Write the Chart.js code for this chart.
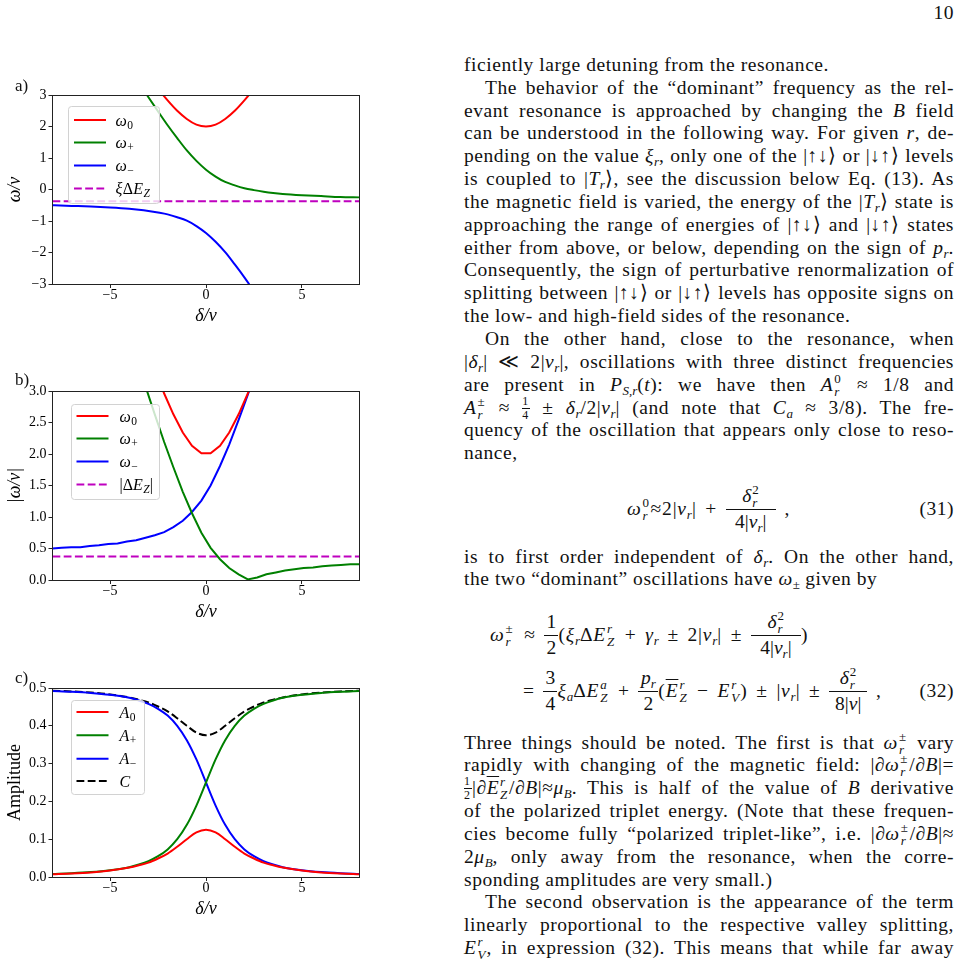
<!DOCTYPE html>
<html>
<head>
<meta charset="utf-8">
<script src="https://cdn.jsdelivr.net/npm/chart.js@4.4.1/dist/chart.umd.min.js"></script>
<style>
  body { margin: 0; width: 961px; height: 965px; position: relative; overflow: hidden; background: #fff;
         font-family: 'Liberation Serif', 'Times New Roman', serif; color: #111; }
  canvas { position: absolute; left: 0; width: 370px; height: 252px; }
  .lbl { position: absolute; font-size: 17px; line-height: 17px; }
  .col { position: absolute; left: 464px; width: 490px; font-size: 19.5px; letter-spacing: 0.55px; }
  .ln { height: 22.85px; line-height: 22.85px; text-align: justify; text-align-last: justify; }
  .ln.last { text-align-last: left; }
  .ind { text-indent: 21px; }
  sub { font-size: 13px; vertical-align: -4px; line-height: 0; font-style: italic; letter-spacing: 0; }
  sup { font-size: 13px; vertical-align: 8px; line-height: 0; }
  .u { font-style: normal; }
  .box { display: inline-block; position: relative; height: 0; vertical-align: baseline; letter-spacing: 0; word-spacing: 0; }
  .box > span { position: absolute; left: 0; right: 0; text-align: center; white-space: nowrap; line-height: 19px; }
  .box > .sp { top: -19px; font-size: 13px; line-height: 13px; text-align: left; left: 1px; }
  .box > .sb { top: -6px; font-size: 13px; line-height: 13px; text-align: left; left: 1px; font-style: italic; }
  .box > .num { top: -29px; }
  .box > .den { top: -3px; }
  .box > .bar { top: -6px; height: 0; border-top: 1px solid #111; }
  .box > .n2 { top: -19px; font-size: 12px; line-height: 12px; }
  .box > .d2 { top: -5px; font-size: 12px; line-height: 12px; }
  .box > .b2 { top: -6px; height: 0; border-top: 1px solid #111; }
  .eq { position: absolute; font-size: 19.5px; line-height: 19px; white-space: nowrap; letter-spacing: 0.8px; word-spacing: 3px; }
  .eqn { position: absolute; left: 880px; width: 74px; text-align: right; font-size: 19.5px; line-height: 19px; letter-spacing: 0.5px; }
</style>
</head>
<body>

<canvas id="chartA" width="370" height="252" style="top:75px"></canvas>
<canvas id="chartB" width="370" height="252" style="top:371px"></canvas>
<canvas id="chartC" width="370" height="252" style="top:668px"></canvas>
<div class="lbl" style="left:15px;top:77px">a)</div>
<div class="lbl" style="left:15px;top:371px">b)</div>
<div class="lbl" style="left:15px;top:669px">c)</div>

<div class="col" style="top:2px;text-align:right;line-height:22.85px">10</div>

<div class="col" style="top:53.9px">
  <div class="ln last">ficiently large detuning from the resonance.</div>
  <div class="ln ind">The behavior of the “dominant” frequency as the rel-</div>
  <div class="ln">evant resonance is approached by changing the <i>B</i> field</div>
  <div class="ln">can be understood in the following way. For given <i>r</i>, de-</div>
  <div class="ln">pending on the value <i>ξ</i><sub>r</sub>, only one of the |↑↓⟩ or |↓↑⟩ levels</div>
  <div class="ln">is coupled to |<i>T</i><sub>r</sub>⟩, see the discussion below Eq. (13). As</div>
  <div class="ln">the magnetic field is varied, the energy of the |<i>T</i><sub>r</sub>⟩ state is</div>
  <div class="ln">approaching the range of energies of |↑↓⟩ and |↓↑⟩ states</div>
  <div class="ln">either from above, or below, depending on the sign of <i>p</i><sub>r</sub>.</div>
  <div class="ln">Consequently, the sign of perturbative renormalization of</div>
  <div class="ln">splitting between |↑↓⟩ or |↓↑⟩ levels has opposite signs on</div>
  <div class="ln last">the low- and high-field sides of the resonance.</div>
  <div class="ln ind">On the other hand, close to the resonance, when</div>
  <div class="ln">|<i>δ</i><sub>r</sub>| ≪ 2|<i>v</i><sub>r</sub>|, oscillations with three distinct frequencies</div>
  <div class="ln">are present in <i>P</i><sub>S,r</sub>(<i>t</i>): we have then <i>A</i><span class="box" style="width:9px"><span class="sp">0</span><span class="sb">r</span></span> ≈ 1/8 and</div>
  <div class="ln"><i>A</i><span class="box" style="width:10px"><span class="sp">±</span><span class="sb">r</span></span> ≈ <span class="box" style="width:8px"><span class="n2">1</span><span class="b2"></span><span class="d2">4</span></span> ± <i>δ</i><sub>r</sub>/2|<i>v</i><sub>r</sub>| (and note that <i>C</i><sub>a</sub> ≈ 3/8). The fre-</div>
  <div class="ln">quency of the oscillation that appears only close to reso-</div>
  <div class="ln last">nance,</div>
</div>

<div class="eq" style="left:627px;top:499px"><i>ω</i><span class="box" style="width:9px"><span class="sp">0</span><span class="sb">r</span></span>≈2|<i>v</i><sub>r</sub>| + <span class="box" style="width:50px"><span class="num"><i>δ</i><span class="box" style="width:8px"><span class="sp">2</span><span class="sb">r</span></span></span><span class="bar"></span><span class="den">4|<i>v</i><sub>r</sub>|</span></span> ,</div>
<div class="eqn" style="top:499px">(31)</div>

<div class="col" style="top:545.5px">
  <div class="ln">is to first order independent of <i>δ</i><sub>r</sub>. On the other hand,</div>
  <div class="ln last">the two “dominant” oscillations have <i>ω</i><sub class="u">±</sub> given by</div>
</div>

<div class="eq" style="left:490px;top:625px"><i>ω</i><span class="box" style="width:11px"><span class="sp">±</span><span class="sb">r</span></span> ≈ <span class="box" style="width:14px"><span class="num">1</span><span class="bar"></span><span class="den">2</span></span>(<i>ξ</i><sub>r</sub>Δ<i>E</i><span class="box" style="width:10px"><span class="sp"><i>r</i></span><span class="sb">Z</span></span> + <i>γ</i><sub>r</sub> ± 2|<i>v</i><sub>r</sub>| ± <span class="box" style="width:50px"><span class="num"><i>δ</i><span class="box" style="width:8px"><span class="sp">2</span><span class="sb">r</span></span></span><span class="bar"></span><span class="den">4|<i>v</i><sub>r</sub>|</span></span>)</div>

<div class="eq" style="left:523px;top:681px">= <span class="box" style="width:14px"><span class="num">3</span><span class="bar"></span><span class="den">4</span></span><i>ξ</i><sub>a</sub>Δ<i>E</i><span class="box" style="width:10px"><span class="sp"><i>a</i></span><span class="sb">Z</span></span> + <span class="box" style="width:20px"><span class="num"><i>p</i><sub>r</sub></span><span class="bar"></span><span class="den">2</span></span>(<i style="text-decoration:overline">E</i><span class="box" style="width:10px"><span class="sp"><i>r</i></span><span class="sb">Z</span></span> − <i>E</i><span class="box" style="width:10px"><span class="sp"><i>r</i></span><span class="sb">V</span></span>) ± |<i>v</i><sub>r</sub>| ± <span class="box" style="width:38px"><span class="num"><i>δ</i><span class="box" style="width:8px"><span class="sp">2</span><span class="sb">r</span></span></span><span class="bar"></span><span class="den">8|<i>v</i>|</span></span> ,</div>
<div class="eqn" style="top:681px">(32)</div>

<div class="col" style="top:731.5px">
  <div class="ln">Three things should be noted. The first is that <i>ω</i><span class="box" style="width:10px"><span class="sp">±</span><span class="sb">r</span></span> vary</div>
  <div class="ln">rapidly with changing of the magnetic field: |∂<i>ω</i><span class="box" style="width:10px"><span class="sp">±</span><span class="sb">r</span></span>/∂<i>B</i>|=</div>
  <div class="ln"><span class="box" style="width:8px"><span class="n2">1</span><span class="b2"></span><span class="d2">2</span></span>|∂<i style="text-decoration:overline">E</i><span class="box" style="width:10px"><span class="sp"><i>r</i></span><span class="sb">Z</span></span>/∂<i>B</i>|≈<i>μ</i><sub>B</sub>. This is half of the value of <i>B</i> derivative</div>
  <div class="ln">of the polarized triplet energy. (Note that these frequen-</div>
  <div class="ln">cies become fully “polarized triplet-like”, i.e. |∂<i>ω</i><span class="box" style="width:10px"><span class="sp">±</span><span class="sb">r</span></span>/∂<i>B</i>|≈</div>
  <div class="ln">2<i>μ</i><sub>B</sub>, only away from the resonance, when the corre-</div>
  <div class="ln last">sponding amplitudes are very small.)</div>
  <div class="ln ind">The second observation is the appearance of the term</div>
  <div class="ln">linearly proportional to the respective valley splitting,</div>
  <div class="ln"><i>E</i><span class="box" style="width:10px"><span class="sp"><i>r</i></span><span class="sb">V</span></span>, in expression (32). This means that while far away</div>
</div>

<script>
// ---- panel a: omega / v ----
const omega0A_x = [-3, -2.5, -2, -1.5, -1, -0.5, 0, 0.5, 1, 1.5, 2, 2.5, 3];
const omega0A   = [3.61, 3.20, 2.83, 2.50, 2.24, 2.06, 2.00, 2.06, 2.24, 2.50, 2.83, 3.20, 3.61];
const omegaPA_x = [-3.5, -3, -2.5, -2, -1.5, -1, -0.5, 0, 0.5, 1, 1.5, 2, 2.5, 3, 3.5, 4, 5, 6, 7, 8];
const omegaPA   = [3.39, 2.93, 2.48, 2.04, 1.63, 1.24, 0.91, 0.63, 0.41, 0.24, 0.13, 0.04, -0.02, -0.07, -0.11, -0.14, -0.18, -0.21, -0.24, -0.25];
const omegaMA_x = [-8, -7, -6, -5, -4, -3.5, -3, -2.5, -2, -1.5, -1, -0.5, 0, 0.5, 1, 1.5, 2, 2.5, 3];
const omegaMA   = [-0.50, -0.52, -0.54, -0.57, -0.61, -0.64, -0.68, -0.73, -0.79, -0.88, -0.99, -1.16, -1.38, -1.66, -1.99, -2.38, -2.79, -3.23, -3.68];
const zeemanA_x = [-8, 8];
const zeemanA   = [-0.375, -0.375];
const yTicksA = [-3, -2, -1, 0, 1, 2, 3];

// ---- panel b: |omega / v| ----
const omega0B_x = [-3.15, -2.67, -2.18, -1.70, -1.21, -0.73, -0.24, 0.24, 0.73, 1.21, 1.70, 2.18, 2.67, 3.15];
const omega0B   = [3.73, 3.34, 2.96, 2.63, 2.34, 2.13, 2.01, 2.01, 2.13, 2.34, 2.63, 2.96, 3.34, 3.73];
const omegaPB_x = [-3.64, -3.15, -2.67, -2.18, -1.70, -1.21, -0.73, -0.24, 0.24, 0.73, 1.21, 1.70, 2.18, 2.67, 3.15, 3.64, 4.12, 4.61, 5.09, 5.58, 6.06, 6.55, 7.03, 7.52, 8];
const omegaPB   = [3.52, 3.07, 2.63, 2.19, 1.79, 1.40, 1.06, 0.75, 0.51, 0.33, 0.19, 0.09, 0.01, 0.04, 0.09, 0.12, 0.15, 0.17, 0.19, 0.20, 0.22, 0.23, 0.24, 0.25, 0.25];
const omegaMB_x = [-8, -7.52, -7.03, -6.55, -6.06, -5.58, -5.09, -4.61, -4.12, -3.64, -3.15, -2.67, -2.18, -1.70, -1.21, -0.73, -0.24, 0.24, 0.73, 1.21, 1.70, 2.18, 2.67];
const omegaMB   = [0.50, 0.51, 0.52, 0.52, 0.54, 0.55, 0.57, 0.58, 0.61, 0.63, 0.67, 0.71, 0.76, 0.84, 0.94, 1.08, 1.26, 1.50, 1.81, 2.15, 2.54, 2.94, 3.38];
const zeemanB_x = [-8, 8];
const zeemanB   = [0.375, 0.375];
const yTicksB = [0, 0.5, 1, 1.5, 2, 2.5, 3];

// ---- panel c: amplitudes ----
const deltaC = [-8, -7, -6, -5, -4, -3.5, -3, -2.5, -2, -1.5, -1, -0.5, 0, 0.5, 1, 1.5, 2, 2.5, 3, 3.5, 4, 5, 6, 7, 8];
const ampZero  = [0.007, 0.009, 0.012, 0.017, 0.025, 0.031, 0.038, 0.049, 0.062, 0.080, 0.100, 0.118, 0.125, 0.118, 0.100, 0.080, 0.062, 0.049, 0.038, 0.031, 0.025, 0.017, 0.012, 0.009, 0.007];
const ampPlus  = [0.008, 0.010, 0.013, 0.018, 0.026, 0.033, 0.042, 0.055, 0.073, 0.100, 0.138, 0.189, 0.250, 0.311, 0.362, 0.400, 0.427, 0.445, 0.458, 0.467, 0.474, 0.482, 0.487, 0.490, 0.492];
const ampMinus = [0.492, 0.490, 0.487, 0.482, 0.474, 0.467, 0.458, 0.445, 0.427, 0.400, 0.362, 0.311, 0.250, 0.189, 0.138, 0.100, 0.073, 0.055, 0.042, 0.033, 0.026, 0.018, 0.013, 0.010, 0.008];
const ampC     = [0.493, 0.491, 0.488, 0.483, 0.475, 0.469, 0.462, 0.451, 0.438, 0.420, 0.400, 0.382, 0.375, 0.382, 0.400, 0.420, 0.438, 0.451, 0.462, 0.469, 0.475, 0.483, 0.488, 0.491, 0.493];
const yTicksC = [0, 0.1, 0.2, 0.3, 0.4, 0.5];

const xTicks = [-5, 0, 5];

// legend labels: runs of text, italic / subscript
const legendA = [
  [{ t: 'ω', it: true }, { t: '0', sub: true }],
  [{ t: 'ω', it: true }, { t: '+', sub: true }],
  [{ t: 'ω', it: true }, { t: '−', sub: true }],
  [{ t: 'ξ', it: true }, { t: 'Δ' }, { t: 'E', it: true }, { t: 'Z', it: true, sub: true }]
];
const legendB = [
  legendA[0], legendA[1], legendA[2],
  [{ t: '|' }, { t: 'Δ' }, { t: 'E', it: true }, { t: 'Z', it: true, sub: true }, { t: '|' }]
];
const legendC = [
  [{ t: 'A', it: true }, { t: '0', sub: true }],
  [{ t: 'A', it: true }, { t: '+', sub: true }],
  [{ t: 'A', it: true }, { t: '−', sub: true }],
  [{ t: 'C', it: true }]
];

const FONT = "'Liberation Serif', 'Times New Roman', serif";
const RED = '#ff0000', GREEN = '#008000', BLUE = '#0000ff', MAGENTA = '#bf00bf', BLACK = '#000000';
const DASH = [7.8, 3.4];

const pts = (xs, ys) => xs.map((x, i) => ({ x: x, y: ys[i] }));
const minus = v => v < 0 ? '\u2212' + Math.abs(v) : String(v);

// where each legend sits, relative to the chart area
const legendBoxes = {
  chartA: { box: [16, 11, 91, 97], rows: [25, 47.5, 70.5, 93.5], handle: [21.5, 53.5], text: 63, items: legendA },
  chartB: { box: [19, 13, 88, 95], rows: [25, 47.5, 70.5, 93.5], handle: [24, 56], text: 67, items: legendB },
  chartC: { box: [19, 12, 73, 94], rows: [24, 47.3, 70.7, 93], handle: [24, 56], text: 67, items: legendC }
};

const framePlugin = {
  id: 'frame',
  afterDatasetsDraw(chart) {
    const ctx = chart.ctx, a = chart.chartArea;
    ctx.save();
    ctx.strokeStyle = '#222';
    ctx.lineWidth = 1;
    ctx.strokeRect(Math.floor(a.left) + 0.5, Math.floor(a.top) + 0.5,
      Math.floor(a.right) - Math.floor(a.left), Math.floor(a.bottom) - Math.floor(a.top));
    ctx.restore();
  }
};

const legendPlugin = {
  id: 'mplLegend',
  afterDatasetsDraw(chart) {
    const o = legendBoxes[chart.canvas.id];
    if (!o) return;
    const ctx = chart.ctx, a = chart.chartArea;
    const x0 = Math.floor(a.left + o.box[0]) + 0.5, y0 = Math.floor(a.top + o.box[1]) + 0.5;
    ctx.save();
    ctx.beginPath();
    ctx.roundRect(x0, y0, o.box[2], o.box[3], 3);
    ctx.fillStyle = 'rgba(255,255,255,0.8)';
    ctx.fill();
    ctx.strokeStyle = '#d2d2d2';
    ctx.lineWidth = 1;
    ctx.stroke();
    o.items.forEach((runs, k) => {
      const ds = chart.data.datasets[k];
      const y = a.top + o.rows[k];
      ctx.beginPath();
      ctx.setLineDash(ds.borderDash || []);
      ctx.strokeStyle = ds.borderColor;
      ctx.lineWidth = ds.borderWidth;
      ctx.moveTo(a.left + o.handle[0], y);
      ctx.lineTo(a.left + o.handle[1], y);
      ctx.stroke();
      ctx.setLineDash([]);
      let x = a.left + o.text;
      ctx.fillStyle = '#000';
      ctx.textBaseline = 'alphabetic';
      runs.forEach(r => {
        ctx.font = (r.it ? 'italic ' : '') + (r.sub ? 11.5 : 16) + 'px ' + FONT;
        ctx.fillText(r.t, x, y + 5.5 + (r.sub ? 3 : 0));
        x += ctx.measureText(r.t).width + (r.it && !r.sub ? 0.5 : 0);
      });
    });
    ctx.restore();
  }
};

function line(xs, ys, color, dashed, smooth) {
  return {
    data: pts(xs, ys),
    borderColor: color,
    borderWidth: 2,
    borderDash: dashed ? DASH : [],
    pointRadius: 0,
    fill: false,
    clip: 0,
    cubicInterpolationMode: smooth ? 'monotone' : 'default',
    tension: 0
  };
}

function makeChart(id, datasets, yMin, yMax, yTicks, yFmt, yTitle, yItalic) {
  return new Chart(document.getElementById(id), {
    type: 'line',
    data: { datasets: datasets },
    options: {
      responsive: false,
      animation: false,
      events: [],
      layout: { padding: { left: 0, right: 10.5, top: 20, bottom: 0 } },
      plugins: { legend: { display: false }, tooltip: { enabled: false } },
      scales: {
        x: {
          type: 'linear', min: -8, max: 8,
          afterFit: s => { s.height = 43; },
          afterBuildTicks: s => { s.ticks = xTicks.map(v => ({ value: v })); },
          grid: { drawOnChartArea: false, drawTicks: true, tickLength: 4, color: '#222' },
          border: { display: false },
          ticks: { padding: 0, color: '#000', font: { family: FONT, size: 14, lineHeight: 1 }, callback: minus, maxRotation: 0 },
          title: { display: true, text: 'δ/ν', color: '#000', padding: { top: 0, bottom: 0 },
                   font: { family: FONT, size: 18, style: 'italic', lineHeight: 1.2 } }
        },
        y: {
          min: yMin, max: yMax,
          afterFit: s => { s.width = 52.5; },
          afterBuildTicks: s => { s.ticks = yTicks.map(v => ({ value: v })); },
          grid: { drawOnChartArea: false, drawTicks: true, tickLength: 4, color: '#222' },
          border: { display: false },
          ticks: { padding: 2, color: '#000', font: { family: FONT, size: 14, lineHeight: 1 }, callback: yFmt },
          title: { display: true, text: yTitle, color: '#000', padding: { top: 4, bottom: 0 },
                   font: { family: FONT, size: 18, style: yItalic ? 'italic' : 'normal', lineHeight: 1.2 } }
        }
      }
    },
    plugins: [framePlugin, legendPlugin]
  });
}

makeChart('chartA', [
  line(omega0A_x, omega0A, RED, false, true),
  line(omegaPA_x, omegaPA, GREEN, false, true),
  line(omegaMA_x, omegaMA, BLUE, false, true),
  line(zeemanA_x, zeemanA, MAGENTA, true, false)
], -3, 3, yTicksA, minus, 'ω/ν', true);

makeChart('chartB', [
  line(omega0B_x, omega0B, RED, false, false),
  line(omegaPB_x, omegaPB, GREEN, false, false),
  line(omegaMB_x, omegaMB, BLUE, false, false),
  line(zeemanB_x, zeemanB, MAGENTA, true, false)
], 0, 3, yTicksB, v => v.toFixed(1), '|ω/ν|', true);

makeChart('chartC', [
  line(deltaC, ampZero, RED, false, true),
  line(deltaC, ampPlus, GREEN, false, true),
  line(deltaC, ampMinus, BLUE, false, true),
  line(deltaC, ampC, BLACK, true, true)
], 0, 0.5, yTicksC, v => v.toFixed(1), 'Amplitude', false);

// keep each typeset line on one row: tighten letter spacing where a line is too long
document.querySelectorAll('.ln').forEach(ln => {
  const span = document.createElement('span');
  while (ln.firstChild) span.appendChild(ln.firstChild);
  ln.appendChild(span);
  ln.style.whiteSpace = 'nowrap';
  ln.style.textAlignLast = 'left';
  const avail = 489 - (ln.classList.contains('ind') ? 21 : 0);
  const w = span.getBoundingClientRect().width;
  if (w > avail) {
    const n = span.textContent.length;
    ln.style.letterSpacing = (0.55 - (w - avail) / n) + 'px';
  }
  ln.style.whiteSpace = '';
  ln.style.textAlignLast = '';
});
</script>
</body>
</html>
